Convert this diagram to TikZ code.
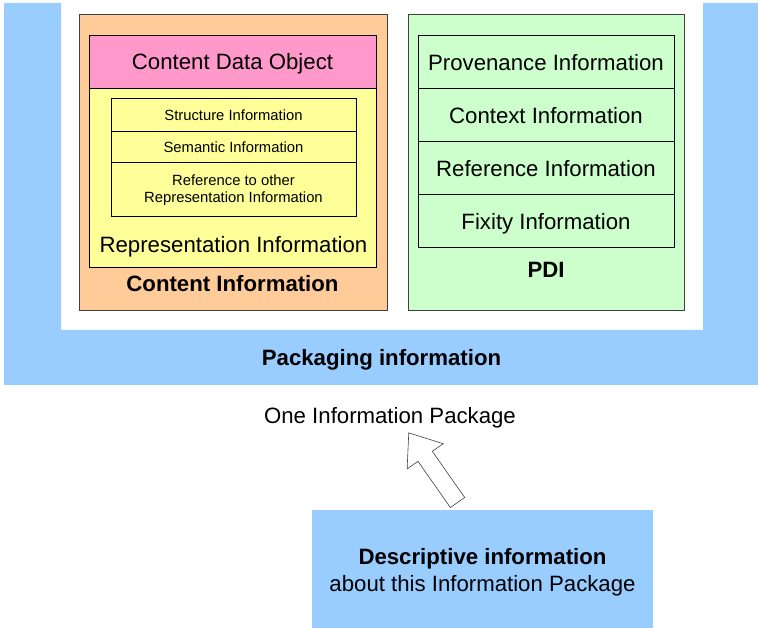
\documentclass[tikz,border=0pt]{standalone}
\usepackage{fontspec}
\setmainfont{Liberation Sans}
\definecolor{pkgblue}{HTML}{99CCFF}
\definecolor{ciorange}{HTML}{FFCC99}
\definecolor{cdopink}{HTML}{FF99CC}
\definecolor{riyellow}{HTML}{FFFF99}
\definecolor{pdigreen}{HTML}{CCFFCC}
\definecolor{edge}{HTML}{404040}

\tikzset{
  panel/.style={draw=edge, line width=0.9pt, inner sep=0pt, anchor=north west},
  cell/.style={draw=black, line width=0.7pt, inner sep=0pt, anchor=north west},
  big/.style={font=\fontsize{22.2}{27}\selectfont, inner sep=0pt, anchor=base},
  bigbold/.style={font=\fontsize{22.2}{27}\selectfont\bfseries, inner sep=0pt, anchor=base},
  small/.style={font=\fontsize{14.8}{17}\selectfont, inner sep=0pt, anchor=base},
}

\begin{document}
\begin{tikzpicture}[x=1pt,y=1pt]
\useasboundingbox (0,0) rectangle (758,-628);

% packaging information: U-shaped band round the two panels
\fill[pkgblue] (4,-3) -- (61,-3) -- (61,-330) -- (703,-330) -- (703,-3)
  -- (758,-3) -- (758,-385) -- (4,-385) -- cycle;
\node[bigbold] (pkg) at (381.5,-366) {Packaging information};

% content information panel
\node[panel, fill=ciorange, minimum width=308, minimum height=296] (ci) at (79,-14) {};
\node[cell, fill=riyellow, minimum width=287, minimum height=179] (ri) at (89,-88) {};
\node[cell, fill=cdopink, minimum width=287, minimum height=53] (cdo) at (89,-35) {};
\node[big] (cdotext) at (232.5,-70) {Content Data Object};

\node[cell, minimum width=245, minimum height=33] (struct) at (111,-98) {};
\node[cell, minimum width=245, minimum height=31] (sem) at (111,-131) {};
\node[cell, minimum width=245, minimum height=54] (refrep) at (111,-162) {};
\node[small] (structtext) at (233.5,-121) {Structure Information};
\node[small] (semtext) at (233.5,-153) {Semantic Information};
\node[font=\fontsize{14.8}{17}\selectfont, inner sep=0pt, align=center]
  (refreptext) at (233.5,-189.7) {Reference to other\\Representation Information};

\node[big] (ritext) at (233.5,-253) {Representation Information};
\node[bigbold] (citext) at (232.5,-292) {Content Information};

% preservation description information panel
\node[panel, fill=pdigreen, minimum width=276, minimum height=296] (pdi) at (408,-14) {};
\node[cell, minimum width=256, minimum height=53] (prov) at (418,-35) {};
\node[cell, minimum width=256, minimum height=53] (ctx) at (418,-88) {};
\node[cell, minimum width=256, minimum height=53] (ref) at (418,-141) {};
\node[cell, minimum width=256, minimum height=53] (fix) at (418,-194) {};
\node[big] (provtext) at (546,-70.5) {Provenance Information};
\node[big] (ctxtext) at (546,-123.5) {Context Information};
\node[big] (reftext) at (546,-176.5) {Reference Information};
\node[big] (fixtext) at (546,-230) {Fixity Information};
\node[bigbold] (pditext) at (546,-278) {PDI};

% the package as a whole
\node[big] (onepkg) at (390,-423) {One Information Package};

% descriptive information
\node[fill=pkgblue, inner sep=0pt, minimum width=341, minimum height=118,
  anchor=north west] (desc) at (312,-510) {};
\node[font=\fontsize{22.2}{27}\selectfont, inner sep=0pt, align=center]
  (desctext) at (482.5,-572) {\textbf{Descriptive information}\\about this Information Package};

% hollow block arrow from the descriptive box up to the package
\coordinate (atail) at (457.5,-502.5);
\draw[draw=edge, line width=0.6pt, fill=white, shift={(atail)}, rotate=125]
  (0,-8.75) -- (56.4,-8.75) -- (56.4,-22) -- (85,0) -- (56.4,22)
  -- (56.4,8.75) -- (0,8.75) -- cycle;
\end{tikzpicture}
\end{document}
